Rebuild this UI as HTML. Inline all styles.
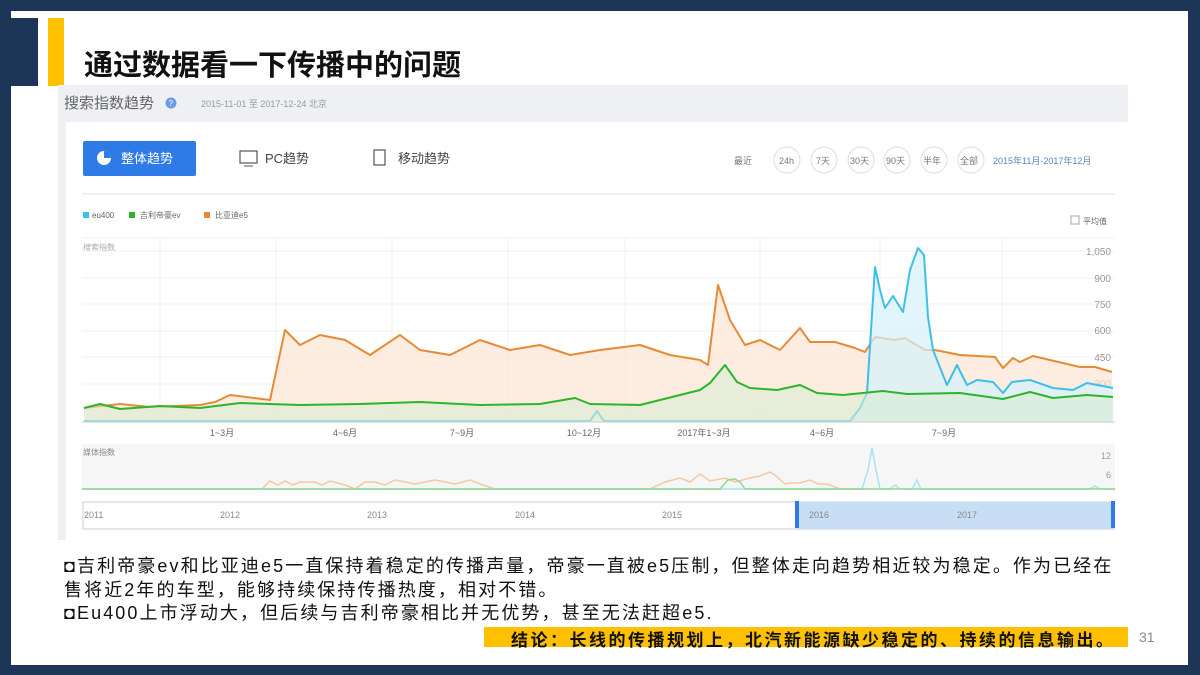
<!DOCTYPE html>
<html><head><meta charset="utf-8"><style>
html,body{margin:0;padding:0;}
body{width:1200px;height:675px;background:#1d3557;position:relative;overflow:hidden;font-family:"Liberation Sans","Noto Sans CJK SC",sans-serif;}
.panel{position:absolute;left:11px;top:11px;width:1177px;height:654px;background:#fff;}
.t{position:absolute;white-space:nowrap;}
</style></head><body>
<div class="panel"></div>
<div style="position:absolute;left:11px;top:18px;width:27px;height:68px;background:#1d3557"></div>
<div style="position:absolute;left:48px;top:18px;width:16px;height:68px;background:#ffc000"></div>
<div class="t" style="left:84px;top:42px;font-size:29px;font-weight:bold;color:#111;">通过数据看一下传播中的问题</div>

<svg style="position:absolute;left:0;top:0" width="1200" height="675">
<rect x="58" y="85" width="1070" height="455" fill="#eef0f3"/>
<rect x="66" y="122" width="1062" height="418" fill="#fff"/>
<text x="64" y="108" font-size="15" fill="#666" font-family="Liberation Sans,Noto Sans CJK SC,sans-serif">搜索指数趋势</text>
<circle cx="171" cy="103" r="5.5" fill="#6b9be0"/><text x="168.5" y="106" font-size="8" fill="#fff">?</text>
<text x="201" y="107" font-size="9" fill="#999" font-family="Liberation Sans,Noto Sans CJK SC,sans-serif">2015-11-01 至 2017-12-24    北京</text>
<rect x="83" y="141" width="113" height="35" rx="2" fill="#2e7be8"/>
<circle cx="104" cy="158" r="7" fill="#fff"/><path d="M104 158 L104 151 A7 7 0 0 1 111 158 Z" fill="#2e7be8"/>
<text x="121" y="163" font-size="13" fill="#fff" font-family="Liberation Sans,Noto Sans CJK SC,sans-serif">整体趋势</text>
<rect x="240" y="151" width="17" height="12" fill="none" stroke="#555" stroke-width="1.2"/><line x1="244" y1="166" x2="253" y2="166" stroke="#555"/>
<text x="265" y="163" font-size="13" fill="#444" font-family="Liberation Sans,Noto Sans CJK SC,sans-serif">PC趋势</text>
<rect x="374" y="150" width="11" height="15" fill="none" stroke="#555" stroke-width="1.2"/>
<text x="398" y="163" font-size="13" fill="#444" font-family="Liberation Sans,Noto Sans CJK SC,sans-serif">移动趋势</text>
<g font-size="9" fill="#777" font-family="Liberation Sans,Noto Sans CJK SC,sans-serif">
<text x="734" y="164">最近</text>
<circle cx="787" cy="160" r="13" fill="none" stroke="#ddd"/><text x="779" y="164">24h</text>
<circle cx="824" cy="160" r="13" fill="none" stroke="#ddd"/><text x="816" y="164">7天</text>
<circle cx="861" cy="160" r="13" fill="none" stroke="#ddd"/><text x="850" y="164">30天</text>
<circle cx="897" cy="160" r="13" fill="none" stroke="#ddd"/><text x="886" y="164">90天</text>
<circle cx="934" cy="160" r="13" fill="none" stroke="#ddd"/><text x="923" y="164">半年</text>
<circle cx="971" cy="160" r="13" fill="none" stroke="#ddd"/><text x="960" y="164">全部</text>
<text x="993" y="164" fill="#5b84c4">2015年11月-2017年12月</text>
</g>
<line x1="82" y1="194" x2="1115" y2="194" stroke="#e3e3e3"/>
<g font-size="8" fill="#666" font-family="Liberation Sans,Noto Sans CJK SC,sans-serif">
<rect x="83" y="212" width="6" height="6" fill="#3cc0ea"/><text x="92" y="218">eu400</text>
<rect x="129" y="212" width="6" height="6" fill="#2cb52c"/><text x="140" y="218">吉利帝豪ev</text>
<rect x="204" y="212" width="6" height="6" fill="#e88a35"/><text x="215" y="218">比亚迪e5</text>
<rect x="1071" y="216" width="8" height="8" fill="none" stroke="#aaa"/><text x="1083" y="224">平均值</text>
<text x="83" y="250" fill="#aaa">搜索指数</text>
</g>
<g stroke="#f0f0f0">
<line x1="82" y1="238" x2="1115" y2="238"/><line x1="82" y1="251" x2="1115" y2="251"/><line x1="82" y1="278" x2="1115" y2="278"/>
<line x1="82" y1="304" x2="1115" y2="304"/><line x1="82" y1="331" x2="1115" y2="331"/><line x1="82" y1="357" x2="1115" y2="357"/>
<line x1="82" y1="384" x2="1115" y2="384"/><line x1="82" y1="410" x2="1115" y2="410"/>
<line x1="160" y1="238" x2="160" y2="422"/><line x1="276" y1="238" x2="276" y2="422"/><line x1="392" y1="238" x2="392" y2="422"/>
<line x1="508" y1="238" x2="508" y2="422"/><line x1="625" y1="238" x2="625" y2="422"/><line x1="760" y1="238" x2="760" y2="422"/><line x1="880" y1="238" x2="880" y2="422"/><line x1="1002" y1="238" x2="1002" y2="422"/>
</g>
<g font-size="10" fill="#999" text-anchor="end" font-family="Liberation Sans,sans-serif">
<text x="1111" y="255">1,050</text><text x="1111" y="282">900</text><text x="1111" y="308">750</text><text x="1111" y="334">600</text><text x="1111" y="361">450</text><text x="1111" y="387">300</text><text x="1111" y="414">150</text>
</g>
<polygon fill="#fbe6d3" fill-opacity="0.7" points="84,422 84,408 120,404 150,407 200,405 215,402 230,395 270,400 285,330 300,345 320,335 345,340 370,355 400,335 420,350 450,355 480,340 510,350 540,345 570,355 600,350 640,345 670,355 700,360 708,365 718,285 730,320 745,345 760,340 780,350 800,328 810,342 835,342 855,348 865,352 875,337 895,340 905,338 925,350 935,350 960,355 995,357 1003,368 1013,358 1020,362 1033,356 1050,360 1080,367 1095,367 1112,372 1112,422"/>
<polyline fill="none" stroke="#e88a35" stroke-width="2" stroke-linejoin="round" points="84,408 120,404 150,407 200,405 215,402 230,395 270,400 285,330 300,345 320,335 345,340 370,355 400,335 420,350 450,355 480,340 510,350 540,345 570,355 600,350 640,345 670,355 700,360 708,365 718,285 730,320 745,345 760,340 780,350 800,328 810,342 835,342 855,348 865,352 875,337 895,340 905,338 925,350 935,350 960,355 995,357 1003,368 1013,358 1020,362 1033,356 1050,360 1080,367 1095,367 1112,372"/>
<polygon fill="#d6f1fb" fill-opacity="0.7" points="850,422 860,408 867,393 875,267 880,290 885,308 893,296 903,312 910,270 918,248 924,255 928,317 933,350 947,385 957,365 967,385 977,380 993,382 1003,393 1012,382 1030,380 1053,388 1073,390 1087,383 1113,388 1113,422"/>
<polyline fill="none" stroke="#3cc0ea" stroke-width="2" stroke-linejoin="round" points="84,421 590,421 597,411 604,421 850,421 860,408 867,393 875,267 880,290 885,308 893,296 903,312 910,270 918,248 924,255 928,317 933,350 947,385 957,365 967,385 977,380 993,382 1003,393 1012,382 1030,380 1053,388 1073,390 1087,383 1113,388"/>
<polygon fill="#d9ecd2" fill-opacity="0.6" points="84,422 84,408 100,404 120,409 160,406 200,408 240,403 300,405 360,404 420,402 480,405 540,404 575,398 590,404 640,405 660,400 700,390 710,383 725,365 737,382 750,388 777,390 800,385 817,393 843,395 883,391 907,394 960,393 1003,399 1030,392 1053,398 1087,395 1113,397 1113,422"/>
<polyline fill="none" stroke="#2cb52c" stroke-width="2" stroke-linejoin="round" points="84,408 100,404 120,409 160,406 200,408 240,403 300,405 360,404 420,402 480,405 540,404 575,398 590,404 640,405 660,400 700,390 710,383 725,365 737,382 750,388 777,390 800,385 817,393 843,395 883,391 907,394 960,393 1003,399 1030,392 1053,398 1087,395 1113,397"/>
<line x1="82" y1="422" x2="1115" y2="422" stroke="#ccc"/>
<g font-size="9" fill="#666" text-anchor="middle" font-family="Liberation Sans,Noto Sans CJK SC,sans-serif">
<text x="222" y="436">1~3月</text><text x="345" y="436">4~6月</text><text x="462" y="436">7~9月</text><text x="584" y="436">10~12月</text><text x="704" y="436">2017年1~3月</text><text x="822" y="436">4~6月</text><text x="944" y="436">7~9月</text>
</g>
<rect x="82" y="444" width="1033" height="46" fill="#f6f6f6"/>
<text x="83" y="455" font-size="8" fill="#888" font-family="Liberation Sans,Noto Sans CJK SC,sans-serif">媒体指数</text>
<text x="1111" y="459" font-size="9" fill="#999" text-anchor="end">12</text><text x="1111" y="478" font-size="9" fill="#999" text-anchor="end">6</text>
<polyline fill="none" stroke="#f5c9a0" stroke-width="1.5" points="82,489 262,489 270,481 278,485 285,481 293,485 300,482 315,482 322,485 330,481 345,485 355,489 365,482 375,482 385,485 395,480 405,482 415,484 425,482 435,480 445,482 455,484 470,480 480,484 495,489 650,489 665,482 680,478 690,482 700,474 710,481 725,478 735,482 750,478 760,476 770,472 775,475 785,484 790,483 800,483 810,480 818,484 825,484 830,485 840,489 865,489"/>
<polyline fill="none" stroke="#a8e3f5" stroke-width="1.5" points="82,489 862,489 868,470 872,448 876,470 880,489 890,489 895,485 900,489 912,489 917,480 921,489 1090,489 1095,486 1100,489 1115,489"/>
<polyline fill="none" stroke="#90d890" stroke-width="1.5" points="82,489 720,489 728,480 735,479 740,482 745,489 1115,489"/>
<rect x="83" y="502" width="1031" height="27" fill="#fff" stroke="#ccd"/>
<rect x="797" y="502" width="316" height="27" fill="#c8def5"/>
<rect x="795" y="501" width="4" height="27" fill="#2e7be8"/><rect x="1111" y="501" width="4" height="27" fill="#2e7be8"/>
<g font-size="9" fill="#888" font-family="Liberation Sans,sans-serif">
<text x="84" y="518">2011</text><text x="220" y="518">2012</text><text x="367" y="518">2013</text><text x="515" y="518">2014</text><text x="662" y="518">2015</text><text x="809" y="518">2016</text><text x="957" y="518">2017</text>
</g>
</svg>

<div class="t" style="left:64px;top:555px;font-size:18px;color:#111;line-height:23.5px;letter-spacing:2.1px;">◘吉利帝豪ev和比亚迪e5一直保持着稳定的传播声量，帝豪一直被e5压制，但整体走向趋势相近较为稳定。作为已经在<br>售将近2年的车型，能够持续保持传播热度，相对不错。<br>◘Eu400上市浮动大，但后续与吉利帝豪相比并无优势，甚至无法赶超e5.</div>
<div style="position:absolute;left:484px;top:627px;width:644px;height:20px;background:#ffc000"></div>
<div class="t" style="left:511px;top:626px;font-size:17px;font-weight:bold;color:#111;letter-spacing:2.5px;">结论：长线的传播规划上，北汽新能源缺少稳定的、持续的信息输出。</div>
<div class="t" style="left:1139px;top:629px;font-size:14px;color:#888;">31</div>
</body></html>
